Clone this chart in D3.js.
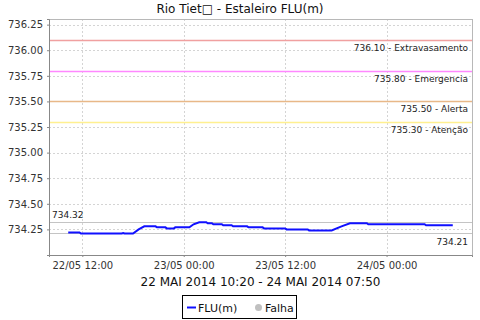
<!DOCTYPE html>
<html>
<head>
<meta charset="utf-8">
<script src="https://cdn.jsdelivr.net/npm/d3@7"></script>
<style>
  body { margin: 0; background: #fff; }
  svg { display: block; font-family: "DejaVu Sans", sans-serif; }
</style>
</head>
<body>
<div id="root"></div>
<script>
const w = 480, h = 320
const margin = {left: 49, right: 8, top: 19, bottom: 65}

// readings (FLU level, m), step points
const times = [
  "2014-05-22 10:20", "2014-05-22 11:40", "2014-05-22 11:50", "2014-05-22 16:40",
  "2014-05-22 16:50", "2014-05-22 17:00", "2014-05-22 18:00", "2014-05-22 18:40",
  "2014-05-22 19:20", "2014-05-22 20:40", "2014-05-22 20:50", "2014-05-22 21:50",
  "2014-05-22 22:00", "2014-05-22 22:50", "2014-05-22 23:00", "2014-05-23 00:40",
  "2014-05-23 01:10", "2014-05-23 01:50", "2014-05-23 02:40", "2014-05-23 02:50",
  "2014-05-23 03:20", "2014-05-23 03:30", "2014-05-23 04:30", "2014-05-23 04:40",
  "2014-05-23 05:40", "2014-05-23 05:50", "2014-05-23 07:30", "2014-05-23 07:40",
  "2014-05-23 09:20", "2014-05-23 09:30", "2014-05-23 12:00", "2014-05-23 12:10",
  "2014-05-23 14:40", "2014-05-23 14:50", "2014-05-23 17:30", "2014-05-23 18:40",
  "2014-05-23 19:40", "2014-05-23 21:40", "2014-05-23 21:50", "2014-05-24 04:30",
  "2014-05-24 04:40", "2014-05-24 07:50"
]
const values = [
  734.22, 734.22, 734.21, 734.21,
  734.215, 734.21, 734.21, 734.25,
  734.28, 734.28, 734.27, 734.27,
  734.26, 734.26, 734.27, 734.27,
  734.30, 734.32, 734.32, 734.31,
  734.31, 734.30, 734.30, 734.29,
  734.29, 734.28, 734.28, 734.27,
  734.27, 734.26, 734.26, 734.25,
  734.25, 734.24, 734.24, 734.28,
  734.31, 734.31, 734.30, 734.30,
  734.29, 734.29
]

// alarm levels
const levelValues = [736.10, 735.80, 735.50, 735.30]
const levelNames = ["Extravasamento", "Emergencia", "Alerta", "Atenção"]
const levelColors = ["#f0a0a0", "#ff88ff", "#e8b888", "#fff090"]

const yTicks = [734.25, 734.50, 734.75, 735.00, 735.25, 735.50, 735.75, 736.00, 736.25]
const xTicks = ["2014-05-22 12:00", "2014-05-23 00:00", "2014-05-23 12:00", "2014-05-24 00:00"]

const title = "Rio Tiet\u25A1 - Estaleiro FLU(m)"
const subtitle = "22 MAI 2014 10:20 - 24 MAI 2014 07:50"
const legendItems = ["FLU(m)", "Falha"]

const parse = d3.timeParse("%Y-%m-%d %H:%M")
const data = times.map((t, i) => ({t: parse(t), v: values[i]}))

// 5% margin either side of the data span, like the original
const ext = d3.extent(data, d => d.t)
const pad = (ext[1] - ext[0]) * 0.05
const x = d3.scaleTime()
    .domain([new Date(+ext[0] - pad), new Date(+ext[1] + pad)])
    .range([margin.left, w - margin.right])

const y = d3.scaleLinear()
    .domain([734.0, 736.305])
    .range([h - margin.bottom, margin.top])

const svg = d3.select("#root").append("svg")
    .attr("width", w)
    .attr("height", h)

const x0 = margin.left, x1 = w - margin.right
const y0 = margin.top, y1 = h - margin.bottom

// grid
svg.append("g").selectAll("line.gy").data(yTicks).enter().append("line")
    .attr("x1", x0).attr("x2", x1)
    .attr("y1", d => Math.round(y(d)) + 0.5).attr("y2", d => Math.round(y(d)) + 0.5)
    .attr("stroke", "#d4d4d4").attr("stroke-dasharray", "2,2")

svg.append("g").selectAll("line.gx").data(xTicks).enter().append("line")
    .attr("x1", d => Math.round(x(parse(d))) + 0.5).attr("x2", d => Math.round(x(parse(d))) + 0.5)
    .attr("y1", y0).attr("y2", y1)
    .attr("stroke", "#d4d4d4").attr("stroke-dasharray", "2,2")

// plot frame
svg.append("rect")
    .attr("x", x0 + 0.5).attr("y", y0 + 0.5)
    .attr("width", x1 - x0).attr("height", y1 - y0)
    .attr("fill", "none").attr("stroke", "#b8b8b8")

// alarm markers
const lv = svg.append("g")
lv.selectAll("line").data(levelValues).enter().append("line")
    .attr("x1", x0 + 1).attr("x2", x1)
    .attr("y1", d => Math.round(y(d)) + 0.5).attr("y2", d => Math.round(y(d)) + 0.5)
    .attr("stroke", (d, i) => levelColors[i]).attr("stroke-width", 1.5)
lv.selectAll("text").data(levelValues).enter().append("text")
    .attr("x", x1 - 4)
    .attr("y", d => y(d) + 11)
    .attr("text-anchor", "end")
    .attr("font-size", 9)
    .attr("fill", "#222")
    .text((d, i) => d3.format(".2f")(d) + " - " + levelNames[i])

// max / min markers
const vmax = d3.max(values), vmin = d3.min(values)
svg.append("g").selectAll("line").data([vmax, vmin]).enter().append("line")
    .attr("x1", x0 + 1).attr("x2", x1)
    .attr("y1", d => Math.round(y(d)) + 0.5).attr("y2", d => Math.round(y(d)) + 0.5)
    .attr("stroke", "#c4c4c4").attr("stroke-width", 1.2)
svg.append("text")
    .attr("x", x0 + 3).attr("y", y(vmax) - 4)
    .attr("font-size", 9).attr("fill", "#222")
    .text(d3.format(".2f")(vmax))
svg.append("text")
    .attr("x", x1 - 4).attr("y", y(vmin) + 12)
    .attr("text-anchor", "end")
    .attr("font-size", 9).attr("fill", "#222")
    .text(d3.format(".2f")(vmin))

// series
const line = d3.line()
    .x(d => x(d.t))
    .y(d => y(d.v))
svg.append("path")
    .datum(data)
    .attr("d", line)
    .attr("fill", "none")
    .attr("stroke", "#1010ff")
    .attr("stroke-width", 2)

// axes
const yAxis = d3.axisLeft(y)
    .tickValues(yTicks)
    .tickFormat(d3.format(".2f"))
    .tickSize(2)
    .tickPadding(4)
const gy = svg.append("g")
    .attr("transform", `translate(${x0},0)`)
    .call(yAxis)
gy.select(".domain").attr("stroke", "#888")
gy.selectAll(".tick line").attr("stroke", "#888")
gy.selectAll("text").attr("font-size", 10).attr("fill", "#333")
    .attr("font-family", "DejaVu Sans")

const xAxis = d3.axisBottom(x)
    .tickValues(xTicks.map(parse))
    .tickFormat(d3.timeFormat("%d/%m %H:%M"))
    .tickSize(2)
    .tickPadding(5)
const gx = svg.append("g")
    .attr("transform", `translate(0,${y1})`)
    .call(xAxis)
gx.select(".domain").attr("stroke", "#888")
gx.selectAll(".tick line").attr("stroke", "#888")
gx.selectAll("text").attr("font-size", 10).attr("fill", "#333")
    .attr("font-family", "DejaVu Sans")

// title & subtitle
svg.append("text")
    .attr("x", w / 2).attr("y", 13)
    .attr("text-anchor", "middle")
    .attr("font-size", 12).attr("fill", "#111")
    .text(title)
svg.append("text")
    .attr("x", (x0 + x1) / 2).attr("y", 286)
    .attr("text-anchor", "middle")
    .attr("font-size", 12).attr("fill", "#111")
    .text(subtitle)

// legend
const lg = svg.append("g")
lg.append("rect")
    .attr("x", 182.5).attr("y", 295.5)
    .attr("width", 114).attr("height", 23)
    .attr("fill", "#fff").attr("stroke", "#000")
lg.append("line")
    .attr("x1", 187).attr("x2", 196)
    .attr("y1", 307.5).attr("y2", 307.5)
    .attr("stroke", "#1010ff").attr("stroke-width", 2)
lg.append("text")
    .attr("x", 198).attr("y", 311.5)
    .attr("font-size", 11).attr("fill", "#111")
    .text(legendItems[0])
lg.append("circle")
    .attr("cx", 258.5).attr("cy", 307.5).attr("r", 3.5)
    .attr("fill", "#c0c0c0")
lg.append("text")
    .attr("x", 265).attr("y", 311.5)
    .attr("font-size", 11).attr("fill", "#111")
    .text(legendItems[1])
</script>
</body>
</html>
